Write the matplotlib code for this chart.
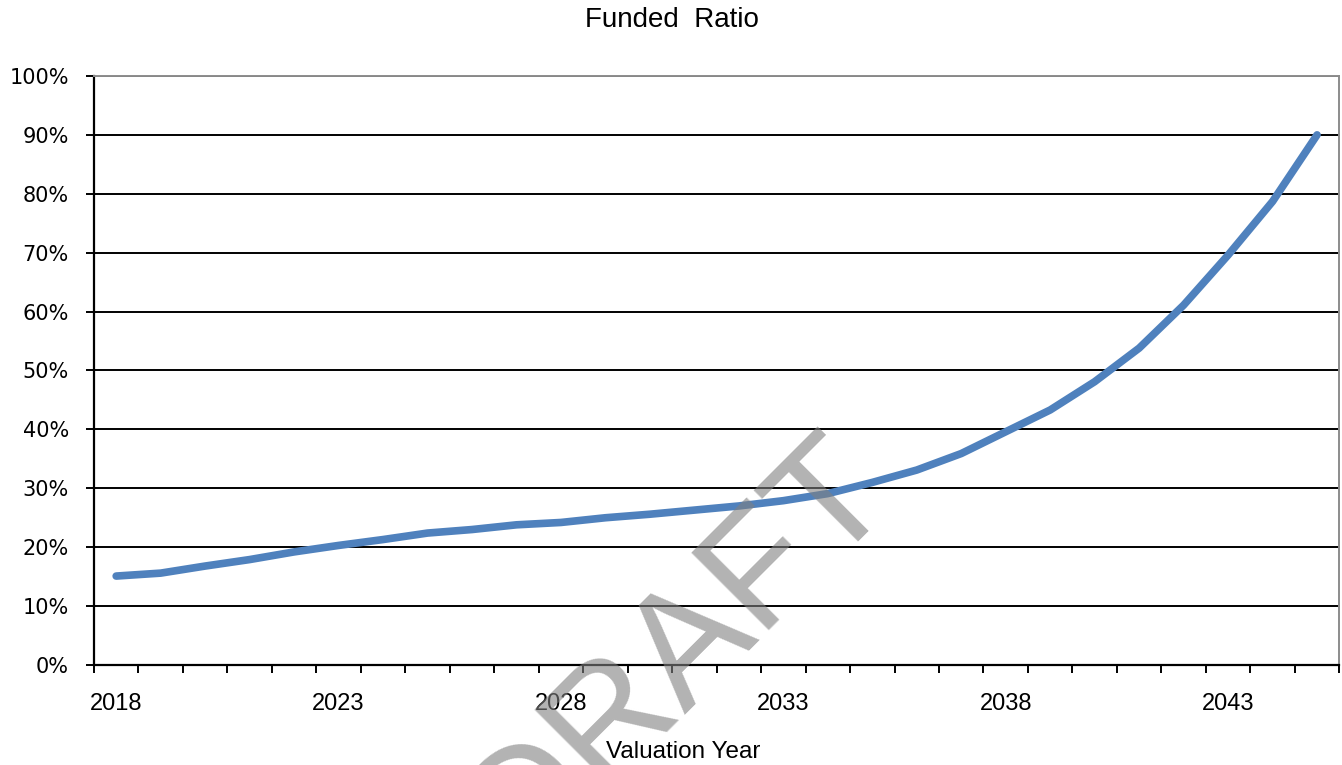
import numpy as np
import matplotlib.pyplot as plt
from matplotlib.ticker import FixedLocator, PercentFormatter

# Data
years = list(range(2018, 2046))
funded_ratio = [15.1, 15.6, 16.8, 17.9, 19.2, 20.3, 21.3, 22.4, 23.0, 23.8,
                24.2, 25.0, 25.6, 26.3, 27.0, 27.9, 29.1, 31.0, 33.1, 35.9,
                39.6, 43.3, 48.1, 53.8, 61.1, 69.6, 78.7, 90.0]
label_years = [2018, 2023, 2028, 2033, 2038, 2043]
y_ticks = list(range(0, 101, 10))

fig = plt.figure(figsize=(13.42, 7.65), dpi=100)
ax = fig.add_axes([0.070, 0.1307, 0.928, 0.770])

x = np.arange(len(years))
ax.plot(x, funded_ratio, color="#4f81bd", lw=5.5, solid_capstyle="round",
        solid_joinstyle="round", zorder=3)

ax.set_xlim(-0.5, len(years) - 0.5)
ax.set_ylim(0, 100)

# y axis
ax.set_yticks(y_ticks)
ax.yaxis.set_major_formatter(PercentFormatter(decimals=0))
ax.tick_params(axis="y", length=6, width=1.4, pad=12, labelsize=15)
for lbl in ax.get_yticklabels():
    lbl.set_fontfamily("DejaVu Sans")
ax.grid(axis="y", color="black", lw=1.4, zorder=1)

# x axis: labels at every fifth year, tick marks between categories
ax.set_xticks([years.index(y) for y in label_years])
ax.set_xticklabels([str(y) for y in label_years], fontfamily="Liberation Sans",
                   fontsize=17)
ax.tick_params(axis="x", which="major", length=0, pad=20)
ax.xaxis.set_minor_locator(FixedLocator(np.arange(-0.5, len(years), 1.0)))
ax.tick_params(axis="x", which="minor", length=6, width=1.4)

for side in ["left", "bottom"]:
    ax.spines[side].set_color("black")
    ax.spines[side].set_linewidth(1.6)
for side in ["top", "right"]:
    ax.spines[side].set_color("#8c8c8c")
    ax.spines[side].set_linewidth(1.4)

fig.text(0.5008, 0.974, "Funded  Ratio", ha="center", va="center",
         fontsize=20, fontfamily="Liberation Sans")
fig.text(0.509, 0.017, "Valuation Year", ha="center", va="center",
         fontsize=17.5, fontfamily="Liberation Sans")

# watermark
fig.text(0.5268, 0.1111, "DRAFT", ha="center", va="baseline", rotation=45,
         rotation_mode="anchor", fontsize=115,
         fontfamily="Liberation Sans", color="#808080", alpha=0.6, zorder=10)

plt.savefig("out.png", dpi=100)
plt.close()
